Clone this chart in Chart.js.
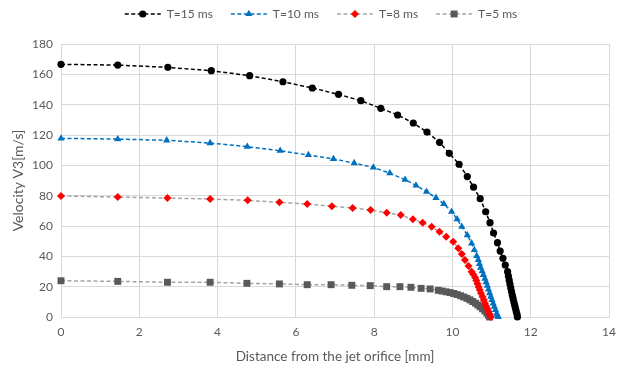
<!DOCTYPE html>
<html>
<head>
<meta charset="utf-8">
<script src="https://cdn.jsdelivr.net/npm/chart.js@4/dist/chart.umd.min.js"></script>
<style>
  html, body { margin: 0; padding: 0; background: #ffffff; }
  #wrap { width: 642px; height: 370px; position: relative; }
</style>
</head>
<body>
<div id="wrap"><canvas id="chart" width="642" height="370"></canvas></div>
<script>
// Velocity profiles along the jet axis for four pulse durations
const seriesLabels = ['T=15 ms', 'T=10 ms', 'T=8 ms', 'T=5 ms'];

const distT15 = [0, 1.45, 2.73, 3.84, 4.82, 5.67, 6.42, 7.09, 7.66, 8.17, 8.60, 9.00, 9.35, 9.67, 9.92, 10.17, 10.38, 10.54, 10.71, 10.85, 10.96, 11.05, 11.15, 11.22, 11.29, 11.35, 11.41, 11.43, 11.45, 11.47, 11.49, 11.51, 11.53, 11.55, 11.57, 11.59, 11.61, 11.63, 11.65, 11.66];
const velT15  = [166.6, 166.1, 164.6, 162.4, 159.1, 155.1, 151.0, 146.8, 142.6, 137.6, 133.2, 127.9, 121.9, 115.2, 107.9, 100.7, 92.6, 85.6, 78.0, 69.4, 62.2, 55.4, 49.0, 43.5, 38.7, 34.3, 29.9, 27.0, 24.3, 21.7, 19.2, 16.8, 14.4, 12.1, 9.9, 7.8, 5.7, 3.7, 1.8, 0];

const distT10 = [0, 1.45, 2.70, 3.81, 4.76, 5.60, 6.32, 6.96, 7.49, 7.98, 8.40, 8.79, 9.07, 9.34, 9.58, 9.78, 9.98, 10.12, 10.24, 10.38, 10.49, 10.56, 10.62, 10.66, 10.69, 10.72, 10.76, 10.79, 10.83, 10.86, 10.89, 10.92, 10.95, 10.98, 11.01, 11.04, 11.07, 11.10, 11.13, 11.15, 11.17];
const velT10  = [117.8, 117.3, 116.5, 114.7, 112.3, 109.6, 106.8, 104.2, 101.5, 98.6, 94.8, 90.6, 86.8, 82.6, 78.6, 74.6, 69.4, 64.5, 59.5, 54.0, 48.6, 44.2, 40.3, 37.6, 35.0, 32.6, 30.2, 27.8, 25.3, 23.0, 20.6, 18.2, 15.8, 13.5, 11.2, 9.0, 6.8, 4.6, 2.4, 1.0, 0];

const distT8 = [0, 1.45, 2.72, 3.81, 4.77, 5.58, 6.29, 6.92, 7.45, 7.91, 8.32, 8.68, 8.99, 9.24, 9.47, 9.67, 9.84, 10.02, 10.15, 10.24, 10.32, 10.41, 10.49, 10.53, 10.58, 10.61, 10.64, 10.67, 10.70, 10.73, 10.77, 10.80, 10.83, 10.86, 10.89, 10.92, 10.95, 10.98];
const velT8  = [79.8, 79.1, 78.4, 77.8, 76.9, 75.6, 74.5, 73.0, 71.9, 70.5, 68.8, 67.2, 64.4, 62.2, 59.5, 56.2, 52.9, 49.6, 45.3, 41.5, 37.6, 33.6, 29.9, 28.2, 26.0, 24.0, 22.0, 19.8, 17.8, 15.6, 13.4, 11.2, 9.0, 7.2, 5.5, 3.6, 1.8, 0];

const distT5 = [0, 1.45, 2.72, 3.81, 4.75, 5.58, 6.29, 6.90, 7.43, 7.90, 8.32, 8.66, 8.94, 9.20, 9.43, 9.64, 9.74, 9.84, 9.94, 10.03, 10.12, 10.21, 10.29, 10.37, 10.45, 10.52, 10.59, 10.65, 10.71, 10.77, 10.83, 10.88, 10.92, 10.95];
const velT5  = [23.9, 23.5, 22.9, 22.9, 22.2, 21.8, 21.3, 21.3, 20.9, 20.7, 20.0, 20.0, 19.6, 18.9, 18.5, 17.6, 17.1, 16.6, 16.1, 15.5, 14.8, 14.0, 13.2, 12.3, 11.3, 10.2, 9.1, 7.9, 6.7, 5.4, 4.0, 2.6, 1.3, 0];

const xTicksMax = 14;
const yTicksMax = 180;

function toPoints(xs, ys) {
  return xs.map((x, i) => ({ x: x, y: ys[i] }));
}

const FONT = 'Lato, "Open Sans", sans-serif';
const TEXT = '#595959';

const datasets = [
  { label: seriesLabels[0], data: toPoints(distT15, velT15),
    borderColor: '#000000', backgroundColor: '#000000',
    borderWidth: 1.5, borderDash: [4, 2.5],
    pointStyle: 'circle', pointRadius: 3.6, pointBorderWidth: 0,
    pointBackgroundColor: '#000000' },
  { label: seriesLabels[1], data: toPoints(distT10, velT10),
    borderColor: '#0070C0', backgroundColor: '#0070C0',
    borderWidth: 1.5, borderDash: [4, 2.5],
    pointStyle: 'triangle', pointRadius: 4.2, pointBorderWidth: 0,
    pointBackgroundColor: '#0070C0' },
  { label: seriesLabels[2], data: toPoints(distT8, velT8),
    borderColor: '#A5A5A5', backgroundColor: '#FF0000',
    borderWidth: 1.5, borderDash: [4, 2.5],
    pointStyle: 'rectRot', pointRadius: 4, pointBorderWidth: 0,
    pointBackgroundColor: '#FF0000' },
  { label: seriesLabels[3], data: toPoints(distT5, velT5),
    borderColor: '#A5A5A5', backgroundColor: '#595959',
    borderWidth: 1.5, borderDash: [4, 2.5],
    pointStyle: 'rect', pointRadius: 4.9, pointBorderWidth: 0,
    pointBackgroundColor: '#595959' }
];

function drawMarker(ctx, style, x, y, r, color) {
  ctx.save();
  ctx.fillStyle = color;
  ctx.beginPath();
  if (style === 'circle') {
    ctx.arc(x, y, r, 0, Math.PI * 2);
  } else if (style === 'triangle') {
    ctx.moveTo(x, y - r);
    ctx.lineTo(x + r * 0.866, y + r * 0.5);
    ctx.lineTo(x - r * 0.866, y + r * 0.5);
    ctx.closePath();
  } else if (style === 'rectRot') {
    ctx.moveTo(x, y - r);
    ctx.lineTo(x + r, y);
    ctx.lineTo(x, y + r);
    ctx.lineTo(x - r, y);
    ctx.closePath();
  } else {
    const h = r * Math.SQRT1_2;
    ctx.rect(x - h, y - h, 2 * h, 2 * h);
  }
  ctx.fill();
  ctx.restore();
}

// Legend with a dashed line sample and its marker, centred above the plot
const lineLegend = {
  id: 'lineLegend',
  afterDraw(chart) {
    const ctx = chart.ctx;
    const lineLen = 36, gapText = 6, gapItem = 18, y = 14;
    ctx.save();
    ctx.font = '12px ' + FONT;
    const items = chart.data.datasets.map(ds => ({ ds, w: lineLen + gapText + ctx.measureText(ds.label).width }));
    const total = items.reduce((s, it) => s + it.w, 0) + gapItem * (items.length - 1);
    let x = (chart.width - total) / 2;
    items.forEach(({ ds, w }) => {
      ctx.strokeStyle = ds.borderColor;
      ctx.lineWidth = ds.borderWidth;
      ctx.setLineDash(ds.borderDash);
      ctx.beginPath();
      ctx.moveTo(x, y);
      ctx.lineTo(x + lineLen, y);
      ctx.stroke();
      ctx.setLineDash([]);
      drawMarker(ctx, ds.pointStyle, x + lineLen / 2, y, ds.pointRadius, ds.pointBackgroundColor);
      ctx.fillStyle = TEXT;
      ctx.textBaseline = 'middle';
      ctx.textAlign = 'left';
      ctx.fillText(ds.label, x + lineLen + gapText, y);
      x += w + gapItem;
    });
    ctx.restore();
  }
};

new Chart(document.getElementById('chart'), {
  type: 'scatter',
  data: { datasets: datasets.map(d => Object.assign({ showLine: true, tension: 0, clip: false }, d)) },
  options: {
    responsive: false,
    animation: false,
    layout: { padding: { left: 0, right: 33, top: 44, bottom: 0 } },
    plugins: {
      legend: { display: false },
      tooltip: { enabled: false }
    },
    scales: {
      x: {
        type: 'linear', min: 0, max: xTicksMax,
        ticks: { stepSize: 2, color: TEXT, font: { family: FONT, size: 12 }, padding: 8 },
        grid: { color: '#D9D9D9', lineWidth: 1, drawTicks: false },
        border: { color: '#D9D9D9' },
        title: { display: true, text: 'Distance from the jet orifice [mm]', color: TEXT,
                 font: { family: FONT, size: 13.5 }, padding: { top: 4, bottom: 5 } },
        afterFit(scale) { scale.height = 53; }
      },
      y: {
        type: 'linear', min: 0, max: yTicksMax,
        ticks: { stepSize: 20, color: TEXT, font: { family: FONT, size: 12 }, padding: 8 },
        grid: { color: '#D9D9D9', lineWidth: 1, drawTicks: false },
        border: { color: '#D9D9D9' },
        title: { display: true, text: 'Velocity V3[m/s]', color: TEXT,
                 font: { family: FONT, size: 14 }, padding: { top: 10, bottom: 2 } },
        afterFit(scale) { scale.width = 61; }
      }
    }
  },
  plugins: [lineLegend]
});
</script>
</body>
</html>
